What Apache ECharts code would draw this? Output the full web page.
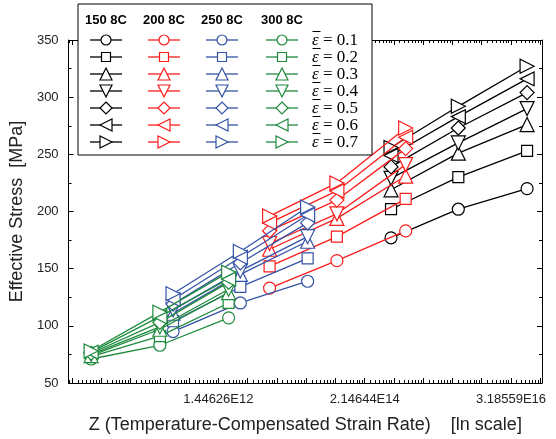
<!DOCTYPE html>
<html><head><meta charset="utf-8">
<script src="https://cdn.jsdelivr.net/npm/echarts@6/dist/echarts.min.js"></script>
<style>html,body{margin:0;padding:0;background:#fff}#c{width:556px;height:439px}</style>
</head><body><div id="c"></div>
<script>
// ---------- data ----------
const temps = ['150 8C', '200 8C', '250 8C', '300 8C'];
const strains = ['0.1', '0.2', '0.3', '0.4', '0.5', '0.6', '0.7'];
// ln Z of the three strain-rate points of each temperature
const lnZ150 = [33.9, 36.2, 38.55];
const lnZ200 = [29.75, 32.05, 34.4];
const lnZ250 = [26.45, 28.75, 31.05];
const lnZ300 = [23.65, 26.0, 28.35];
// effective stress [MPa], one row per strain 0.1..0.7
const stress150 = [[177,202,220],[202,230,253],[219,251,276],[229,260,290],[239,273,304],[249,283,316],[256,292,327]];
const stress200 = [[133,157,183],[152,178,211],[167,194,231],[172,198,241],[183,210,255],[190,218,265],[196,225,273]];
const stress250 = [[95,120,139],[104,134,159],[111,145,174],[114,148,178],[119,155,190],[123,160,197],[128,165,204]];
const stress300 = [[71,83,107],[73,91,120],[74,97,129],[75,99,132],[76,103,138],[77,108,141],[78,112,147]];
// x axis (ln Z) ticks and labels
const xLabelValues = [28, 33, 38];
const xLabelTexts = ['1.44626E12', '2.14644E14', '3.18559E16'];
const xMajorTicks = [23,24,25,26,27,28,29,30,31,32,33,34,35,36,37,38,39];

// ---------- styles ----------
const xMin = 22.88, xMax = 39.06;
const colors = ['#000000', '#fb1c1c', '#3553a6', '#1f8a3d'];
const symbols = ['circle','rect','triangle','triangle','diamond','triangle','triangle'];
const rotates = [0, 0, 0, 180, 0, 90, -90];
const sizes = [12, 11, 14, 14, 14, 14, 14];

const lnZ = [lnZ150, lnZ200, lnZ250, lnZ300];
const stress = [stress150, stress200, stress250, stress300];

const minorTicks = [];
for (let n = 22; n <= 39; n++) {
  for (let k = 1; k < 8; k++) {
    const v = n + Math.log(1 + k * (Math.E - 1) / 8);
    if (v > xMin && v < xMax) minorTicks.push(v);
  }
}

const series = [];
for (let t = 0; t < 4; t++) {
  for (let s = 0; s < 7; s++) {
    series.push({
      type: 'line',
      name: temps[t] + ' ' + strains[s],
      data: lnZ[t].map((x, i) => [x, stress[t][s][i]]),
      symbol: symbols[s],
      symbolRotate: rotates[s],
      symbolSize: sizes[s],
      showAllSymbol: true,
      lineStyle: { color: colors[t], width: 1.3 },
      itemStyle: { color: '#fff', borderColor: colors[t], borderWidth: 1.2 },
      emphasis: { disabled: true },
      animation: false,
      z: 2 + t
    });
  }
}

// ---------- legend drawn as graphic ----------
const legendCols = [106, 164, 222, 282];
const legendRow0 = 40, legendRowGap = 17;
const g = [];
g.push({ type: 'rect', shape: { x: 78, y: 4, width: 294, height: 151 },
  style: { fill: '#fff', stroke: '#000', lineWidth: 1 }, z: 100 });
function symbolShape(kind, rot, cx, cy, sz, col) {
  const st = { fill: '#fff', stroke: col, lineWidth: 1.2 };
  if (kind === 'circle') return { type: 'circle', shape: { cx, cy, r: sz / 2 }, style: st, z: 102 };
  if (kind === 'rect') return { type: 'rect', shape: { x: cx - sz / 2, y: cy - sz / 2, width: sz, height: sz }, style: st, z: 102 };
  const h = sz / 2;
  let pts;
  if (kind === 'diamond') pts = [[cx, cy - h], [cx + h, cy], [cx, cy + h], [cx - h, cy]];
  else if (rot === 0) pts = [[cx, cy - h], [cx + h, cy + h], [cx - h, cy + h]];
  else if (rot === 180) pts = [[cx, cy + h], [cx + h, cy - h], [cx - h, cy - h]];
  else if (rot === 90) pts = [[cx - h, cy], [cx + h, cy - h], [cx + h, cy + h]];
  else pts = [[cx + h, cy], [cx - h, cy - h], [cx - h, cy + h]];
  return { type: 'polygon', shape: { points: pts }, style: st, z: 102 };
}
for (let t = 0; t < 4; t++) {
  g.push({ type: 'text', x: legendCols[t], y: 20, z: 102,
    style: { text: temps[t], font: 'bold 13px Arial', fill: '#000', align: 'center', verticalAlign: 'middle' } });
  for (let s = 0; s < 7; s++) {
    const cy = legendRow0 + s * legendRowGap;
    g.push({ type: 'line', shape: { x1: legendCols[t] - 16, y1: cy, x2: legendCols[t] + 16, y2: cy },
      style: { stroke: colors[t], lineWidth: 1.3 }, z: 101 });
    g.push(symbolShape(symbols[s], rotates[s], legendCols[t], cy, sizes[s] - 2, colors[t]));
  }
}
for (let s = 0; s < 7; s++) {
  const cy = legendRow0 + s * legendRowGap;
  g.push({ type: 'text', x: 312, y: cy + 1, z: 102,
    style: { text: '{e|ε} = ' + strains[s], font: '17px "Liberation Serif"', fill: '#000',
      verticalAlign: 'middle', align: 'left',
      rich: { e: { font: 'italic 17px "Liberation Serif"' } } } });
  g.push({ type: 'line', shape: { x1: 312.5, y1: cy - 8.5, x2: 320.5, y2: cy - 8.5 },
    style: { stroke: '#000', lineWidth: 1 }, z: 102 });
}

const axisCommon = { lineStyle: { color: '#000', width: 1 } };
const option = {
  animation: false,
  backgroundColor: '#fff',
  grid: { left: 68, right: 14, top: 40, bottom: 55, containLabel: false },
  xAxis: [
    { type: 'value', min: xMin, max: xMax, position: 'bottom',
      axisLine: axisCommon,
      axisTick: { inside: true, length: 5, customValues: xMajorTicks, lineStyle: { color: '#000' } },
      axisLabel: { customValues: xLabelValues, fontSize: 13, fontFamily: 'Arial', color: '#222', margin: 10,
        formatter: v => { const i = xLabelValues.indexOf(Math.round(v)); return i >= 0 ? xLabelTexts[i] : ''; } },
      splitLine: { show: false },
      name: 'Z (Temperature-Compensated Strain Rate)    [ln scale]',
      nameLocation: 'middle', nameGap: 33,
      nameTextStyle: { fontSize: 18, fontFamily: 'Arial', color: '#222' } },
    { type: 'value', min: xMin, max: xMax, position: 'bottom',
      axisLine: { show: false },
      axisTick: { inside: true, length: 3, customValues: minorTicks, lineStyle: { color: '#000' } },
      axisLabel: { show: false }, splitLine: { show: false } },
    { type: 'value', min: xMin, max: xMax, position: 'top',
      axisLine: axisCommon,
      axisTick: { inside: true, length: 5, customValues: xMajorTicks, lineStyle: { color: '#000' } },
      axisLabel: { show: false }, splitLine: { show: false } },
    { type: 'value', min: xMin, max: xMax, position: 'top',
      axisLine: { show: false },
      axisTick: { inside: true, length: 3, customValues: minorTicks, lineStyle: { color: '#000' } },
      axisLabel: { show: false }, splitLine: { show: false } }
  ],
  yAxis: [
    { type: 'value', min: 50, max: 350, interval: 50, position: 'left',
      axisLine: { show: true, lineStyle: { color: '#000', width: 1 } },
      axisTick: { show: true, inside: true, length: 5, lineStyle: { color: '#000' } },
      minorTick: { show: true, splitNumber: 2, length: 3, lineStyle: { color: '#000' } },
      axisLabel: { fontSize: 13, fontFamily: 'Arial', color: '#222', margin: 10 },
      splitLine: { show: false },
      name: 'Effective Stress  [MPa]', nameLocation: 'middle', nameGap: 38, nameRotate: 90,
      nameTextStyle: { fontSize: 18, fontFamily: 'Arial', color: '#222' } },
    { type: 'value', min: 50, max: 350, interval: 50, position: 'right',
      axisLine: { show: true, lineStyle: { color: '#000', width: 1 } },
      axisTick: { show: true, inside: true, length: 5, lineStyle: { color: '#000' } },
      minorTick: { show: true, splitNumber: 2, length: 3, lineStyle: { color: '#000' } },
      axisLabel: { show: false }, splitLine: { show: false } }
  ],
  graphic: g,
  series: series
};
const chart = echarts.init(document.getElementById('c'), null, { renderer: 'canvas' });
chart.setOption(option);
</script>
</body></html>
